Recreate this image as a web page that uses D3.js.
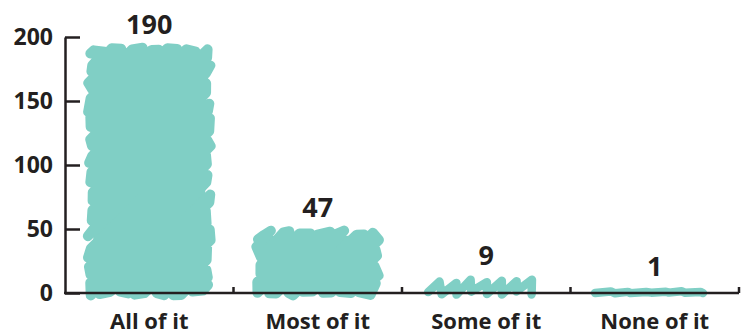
<!DOCTYPE html>
<html>
<head>
<meta charset="utf-8">
<script src="https://cdn.jsdelivr.net/npm/d3@7"></script>
<style>
  body { margin: 0; background: #fff; }
  text { font-family: "Open Sans", sans-serif; font-weight: bold; fill: #231f20; }
</style>
</head>
<body>
<svg class="chart" width="748" height="332"></svg>
<script>
var categories = ["All of it", "Most of it", "Some of it", "None of it"];
var values = [190, 47, 9, 1];
var yTicks = [0, 50, 100, 150, 200];

(function() {
  var svg = d3.select(".chart");
  var teal = "#80cfc5";

  var xScale = d3.scaleBand()
    .domain(categories)
    .range([65, 739])
    .paddingInner(0.3)
    .paddingOuter(0.15);

  var yScale = d3.scaleLinear()
    .domain([0, 200])
    .range([293, 37]);

  var rng = d3.randomLcg(0.271);
  function jit(a) { return (rng() - 0.5) * 2 * a; }

  // rough zigzag fill: hachure lines at 45deg, joined along the edges
  function scribble(x0, y0, x1, y1) {
    var pts = [], i = 0;
    if (y1 - y0 < 20) {
      // short bar: slanted up/down zigzag along x
      var flat = (y1 - y0) < 4;
      var amp = flat ? 0.4 : 2;
      for (var x = x0 + 3; x <= x1 - 3; x += flat ? 9 : 7.5, i++) {
        pts.push([x + (i % 2 ? 3 : -3) + jit(1.5), (i % 2 ? y0 : y1) + jit(amp)]);
      }
      return d3.line()(pts);
    }
    var gap = 6.5 * Math.SQRT2;
    for (var c = x0 + y0 + gap / 2; c < x1 + y1 - gap / 3; c += gap, i++) {
      var xa = Math.max(x0, c - y1), xb = Math.min(x1, c - y0);
      var a = [xa + jit(2.5), c - xa + jit(2.5)],
          b = [xb + jit(2.5), c - xb + jit(2.5)];
      if (i % 2 === 0) pts.push(a, b); else pts.push(b, a);
    }
    return d3.line()(pts);
  }

  var bars = svg.append("g").selectAll("g")
    .data(categories)
    .enter().append("g");

  // solid core so the scribble never shows holes
  bars.filter(function(d, i) { return yScale(0) - yScale(values[i]) > 20; })
    .append("rect")
    .attr("x", function(d) { return xScale(d) + 3; })
    .attr("y", function(d) { return yScale(values[categories.indexOf(d)]) + 3; })
    .attr("width", xScale.bandwidth() - 6)
    .attr("height", function(d) { return yScale(0) - yScale(values[categories.indexOf(d)]) - 6; })
    .attr("fill", teal);

  bars.append("path")
    .attr("d", function(d, i) {
      var x = xScale(d), w = xScale.bandwidth();
      return scribble(x, yScale(values[i]), x + w, yScale(0));
    })
    .attr("fill", "none")
    .attr("stroke", teal)
    .attr("stroke-width", function(d, i) { return values[i] < 20 ? 8.5 : 10; })
    .attr("stroke-linecap", "round")
    .attr("stroke-linejoin", "round");

  // value labels
  svg.append("g").selectAll("text")
    .data(categories)
    .enter().append("text")
    .attr("x", function(d) { return xScale(d) + xScale.bandwidth() / 2; })
    .attr("y", function(d, i) { return yScale(values[i]) - 16; })
    .attr("text-anchor", "middle")
    .style("font-size", "27px")
    .text(function(d, i) { return values[i]; });

  // y axis, ticks pointing inward
  var yAxis = d3.axisLeft(yScale)
    .tickValues(yTicks)
    .tickSizeInner(-15)
    .tickSizeOuter(0)
    .tickPadding(12);

  var gy = svg.append("g")
    .attr("transform", "translate(65,0)")
    .call(yAxis);
  gy.selectAll(".tick text")
    .style("font-size", "23px")
    .attr("fill", "#231f20");

  // x axis, labels under the band centers
  var xAxis = d3.axisBottom(xScale).tickSize(0).tickPadding(20);
  var gx = svg.append("g")
    .attr("transform", "translate(0,293)")
    .call(xAxis);
  gx.selectAll(".tick text")
    .style("font-size", "22px")
    .attr("fill", "#231f20");

  // small ticks at the band boundaries
  var bound = function(d) {
    return xScale(d) + xScale.bandwidth() + xScale.step() * xScale.paddingInner() / 2;
  };
  gx.selectAll(".bound")
    .data(categories)
    .enter().append("line")
    .attr("x1", bound)
    .attr("x2", bound)
    .attr("y1", 0)
    .attr("y2", -6);

  svg.selectAll(".domain, .tick line, line")
    .attr("stroke", "#231f20")
    .attr("stroke-width", 2.5);
  gx.select(".domain").attr("d", "M64,0H739");
  svg.selectAll(".domain").attr("fill", "none");
})();
</script>
</body>
</html>
